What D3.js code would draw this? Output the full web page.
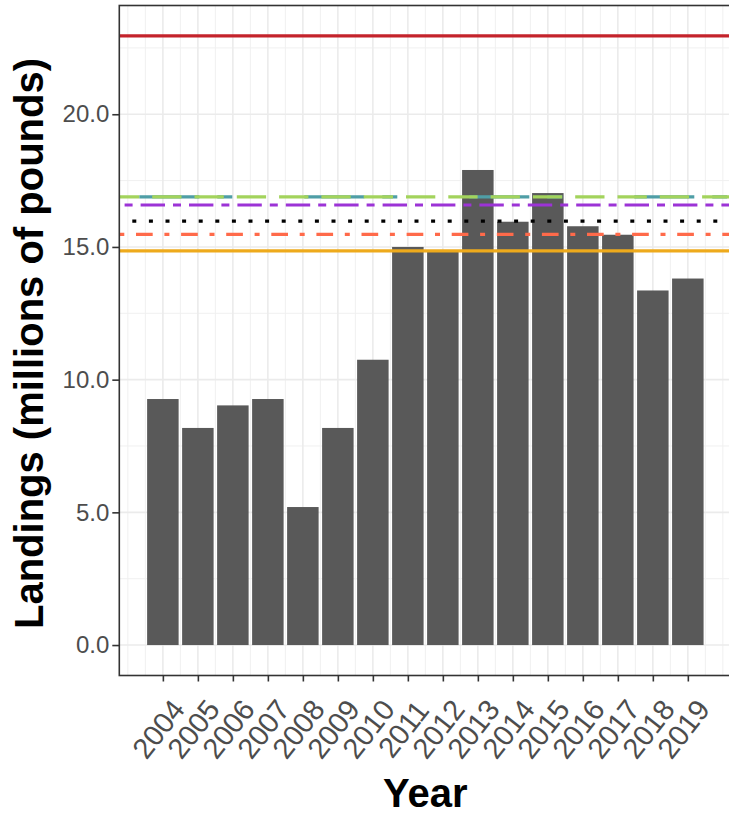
<!DOCTYPE html>
<html>
<head>
<meta charset="utf-8">
<script src="https://cdn.jsdelivr.net/npm/d3@7"></script>
<style>
  body { margin: 0; background: #fff; }
  svg { display: block; font-family: "Liberation Sans", Arial, sans-serif; }
</style>
</head>
<body>
<div class="chart"></div>
<script>
const years = [2004, 2005, 2006, 2007, 2008, 2009, 2010, 2011, 2012, 2013, 2014, 2015, 2016, 2017, 2018, 2019];
const landings = [9.27, 8.18, 9.03, 9.27, 5.2, 8.18, 10.75, 15.0, 14.85, 17.9, 15.95, 17.03, 15.78, 15.46, 13.36, 13.81];

// reference lines, drawn in this order
const refValues = [22.95, 14.85, 15.47, 15.97, 16.58, 16.89, 16.89];
const refColors = ['#c4232b', '#eeaa1c', '#ff6a4a', '#000000', '#9c33d6', '#4f9ea6', '#a3d35c'];
const refDashes = [null, null, '5,11.7,16.7,11.7', '4,12.6', '8,8,24.4,8', '60,18,15,72', '29.3,13'];
const refOffsets = [0, 0, 0, 3.6, 43.1, 145, 9.4];

const yTicks = [0, 5, 10, 15, 20];

const width = 729;
const height = 814;
const panel = { left: 119.3, right: 731.4, top: 5.5, bottom: 675.5 };

const svg = d3.select('.chart')
  .append('svg')
  .attr('width', width)
  .attr('height', height);

const xLo = d3.min(years) - 0.45;
const xHi = d3.max(years) + 0.45;
const xPad = (xHi - xLo) * 0.05;
const x = d3.scaleLinear()
  .domain([xLo - xPad, xHi + xPad])
  .range([panel.left, panel.right]);

const yMax = d3.max(refValues.concat(landings));
const y = d3.scaleLinear()
  .domain([-yMax * 0.05, yMax * 1.05])
  .range([panel.bottom, panel.top]);

svg.append('clipPath').attr('id', 'clip')
  .append('rect')
  .attr('x', panel.left).attr('y', panel.top)
  .attr('width', panel.right - panel.left).attr('height', panel.bottom - panel.top);

const plot = svg.append('g').attr('clip-path', 'url(#clip)');

// grid
const xMinor = d3.range(d3.min(years) - 1, d3.max(years) + 1.01, 0.5).filter(v => !years.includes(v));
const yMinor = yTicks.map(v => v + 2.5).filter(v => v < y.domain()[1]);

plot.selectAll('.xminor').data(xMinor).enter().append('line')
  .attr('x1', d => x(d)).attr('x2', d => x(d))
  .attr('y1', panel.top).attr('y2', panel.bottom)
  .attr('stroke', '#f0f0f0').attr('stroke-width', 1);

plot.selectAll('.yminor').data(yMinor).enter().append('line')
  .attr('x1', panel.left).attr('x2', panel.right)
  .attr('y1', d => y(d)).attr('y2', d => y(d))
  .attr('stroke', '#f0f0f0').attr('stroke-width', 1);

plot.selectAll('.xmajor').data(years).enter().append('line')
  .attr('x1', d => x(d)).attr('x2', d => x(d))
  .attr('y1', panel.top).attr('y2', panel.bottom)
  .attr('stroke', '#ebebeb').attr('stroke-width', 1.6);

plot.selectAll('.ymajor').data(yTicks).enter().append('line')
  .attr('x1', panel.left).attr('x2', panel.right)
  .attr('y1', d => y(d)).attr('y2', d => y(d))
  .attr('stroke', '#ebebeb').attr('stroke-width', 1.6);

// bars
const barW = x(0.9) - x(0);
plot.selectAll('.bar').data(years).enter().append('rect')
  .attr('x', d => x(d) - barW / 2)
  .attr('width', barW)
  .attr('y', (d, i) => y(landings[i]))
  .attr('height', (d, i) => y(0) - y(landings[i]))
  .attr('fill', '#595959');

// reference lines
plot.selectAll('.ref').data(refValues).enter().append('line')
  .attr('x1', panel.left).attr('x2', panel.right)
  .attr('y1', d => y(d)).attr('y2', d => y(d))
  .attr('stroke', (d, i) => refColors[i])
  .attr('stroke-width', 3.2)
  .attr('stroke-dasharray', (d, i) => refDashes[i])
  .attr('stroke-dashoffset', (d, i) => refOffsets[i]);

// border
svg.append('rect')
  .attr('x', panel.left).attr('y', panel.top)
  .attr('width', panel.right - panel.left).attr('height', panel.bottom - panel.top)
  .attr('fill', 'none').attr('stroke', '#333333').attr('stroke-width', 1.6);

// y axis
const yAxis = svg.append('g')
  .attr('transform', 'translate(' + panel.left + ',0)')
  .call(d3.axisLeft(y).tickValues(yTicks).tickFormat(d3.format('.1f')).tickSize(7).tickPadding(3));
yAxis.select('.domain').remove();
yAxis.selectAll('.tick line').attr('stroke', '#333333').attr('stroke-width', 1.6);
yAxis.selectAll('.tick text')
  .attr('fill', '#4d4d4d')
  .style('font-size', '24px');

// x axis
const xAxis = svg.append('g')
  .attr('transform', 'translate(0,' + panel.bottom + ')')
  .call(d3.axisBottom(x).tickValues(years).tickFormat(d3.format('d')).tickSize(6));
xAxis.select('.domain').remove();
xAxis.selectAll('.tick line').attr('stroke', '#333333').attr('stroke-width', 1.6);
xAxis.selectAll('.tick text')
  .attr('fill', '#4d4d4d')
  .style('font-size', '29px')
  .attr('text-anchor', 'middle')
  .attr('y', 0)
  .attr('dy', '0.35em')
  .attr('transform', 'translate(-5,' + (729 - panel.bottom) + ') rotate(-52)');

// titles
svg.append('text')
  .attr('x', (panel.left + panel.right) / 2)
  .attr('y', 807)
  .attr('text-anchor', 'middle')
  .style('font-size', '40px')
  .style('font-weight', 'bold')
  .text('Year');

svg.append('text')
  .attr('transform', 'translate(43,' + ((panel.top + panel.bottom) / 2 + 3) + ') rotate(-90)')
  .attr('text-anchor', 'middle')
  .style('font-size', '40px')
  .style('font-weight', 'bold')
  .text('Landings (millions of pounds)');
</script>
</body>
</html>
